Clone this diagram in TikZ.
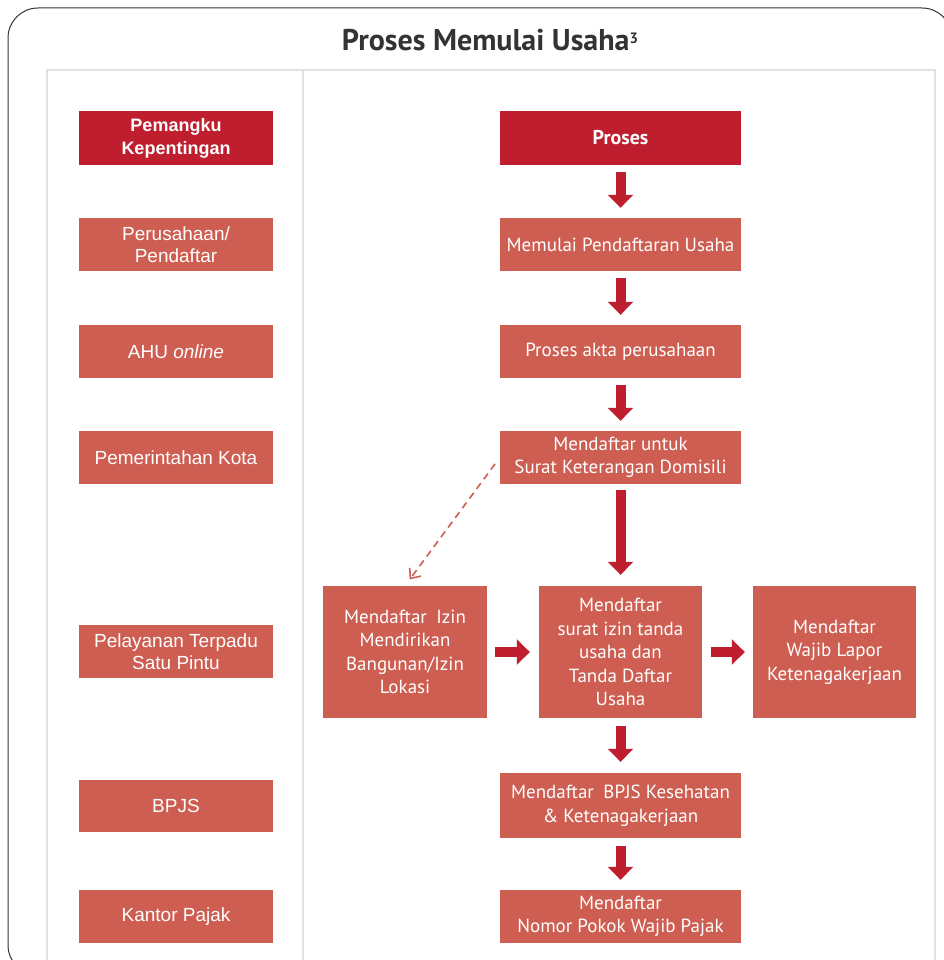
\documentclass[tikz,border=0pt]{standalone}
\usepackage{fontspec}
\setmainfont{Liberation Sans}
\newfontfamily\dinfont{PT Sans}
\usetikzlibrary{arrows.meta}

\definecolor{darkred}{HTML}{BE1E2D}
\definecolor{salmon}{HTML}{CD5E51}
\definecolor{panelgray}{HTML}{E2E2E2}
\definecolor{titlegray}{HTML}{333333}

\tikzset{
  boxhead/.style={fill=darkred, text=white, font=\bfseries\fontsize{18}{23}\selectfont, align=center, inner sep=0pt},
  boxrole/.style={fill=salmon, text=white, font=\fontsize{19}{22}\selectfont, align=center, inner sep=0pt,
    minimum width=194pt},
  boxstep/.style={fill=salmon, text=white, font=\dinfont\fontsize{19}{23.5}\selectfont, align=center, inner sep=0pt},
  bigarrow/.style={draw=darkred, line width=10pt, -{Triangle[length=13pt, width=25pt]}},
  dasharrow/.style={draw=salmon, line width=1.6pt, dash pattern=on 7pt off 5pt, -{Straight Barb[length=8pt, width=14pt]}}
}

\begin{document}
\begin{tikzpicture}[x=1pt, y=-1pt]
  \useasboundingbox (0,0) rectangle (943,960);
  \fill[white] (0,0) rectangle (943,960);

  % frame and panel
  \draw[black!80, line width=1pt, rounded corners=30pt] (8,8) rectangle (952,975);
  \draw[panelgray, line width=1.2pt] (47,990) -- (47,70) -- (935,70) -- (935,990);
  \draw[panelgray, line width=1.2pt] (303,70) -- (303,990);

  \node[text=titlegray, font=\dinfont\bfseries\fontsize{30}{34}\selectfont] (title) at (490,40)
    {Proses Memulai Usaha\raisebox{7pt}{\fontsize{15}{15}\selectfont 3}};

  % stakeholders
  \node[boxhead, minimum width=194pt, minimum height=54pt] (pemangku) at (176,138) {Pemangku\\Kepentingan};
  \node[boxrole, minimum height=53pt] (perusahaan) at (176,244.5) {Perusahaan/\\Pendaftar};
  \node[boxrole, minimum height=53pt] (ahu) at (176,351.5) {AHU \textit{online}};
  \node[boxrole, minimum height=53pt] (pemkot) at (176,457.5) {Pemerintahan Kota};
  \node[boxrole, minimum height=53pt] (ptsp) at (176,651.5) {Pelayanan Terpadu\\Satu Pintu};
  \node[boxrole, minimum height=52pt] (bpjs) at (176,806) {BPJS};
  \node[boxrole, minimum height=53pt] (pajak) at (176,916.5) {Kantor Pajak};

  % process steps
  \node[boxhead, font=\dinfont\bfseries\fontsize{20}{23}\selectfont, minimum width=241pt, minimum height=54pt] (proses) at (620.5,138) {Proses};
  \node[boxstep, minimum width=241pt, minimum height=53pt] (memulai) at (620.5,244.5) {Memulai Pendaftaran Usaha};
  \node[boxstep, minimum width=241pt, minimum height=53pt] (akta) at (620.5,351.5) {Proses akta perusahaan};
  \node[boxstep, minimum width=241pt, minimum height=53pt] (domisili) at (620.5,457.5) {Mendaftar untuk\\Surat Keterangan Domisili};
  \node[boxstep, minimum width=164pt, minimum height=132pt] (imb) at (405,652) {Mendaftar\enspace Izin\\Mendirikan\\Bangunan/Izin\\Lokasi};
  \node[boxstep, minimum width=163pt, minimum height=132pt] (siup) at (620.5,652) {Mendaftar\\surat izin tanda\\usaha dan\\Tanda Daftar\\Usaha};
  \node[boxstep, minimum width=163pt, minimum height=132pt] (wlk) at (834.5,652) {Mendaftar\\Wajib Lapor\\Ketenagakerjaan};
  \node[boxstep, minimum width=241pt, minimum height=65pt] (bpjskes) at (620.5,805.5) {Mendaftar\enspace BPJS Kesehatan\\\& Ketenagakerjaan};
  \node[boxstep, minimum width=241pt, minimum height=53pt] (npwp) at (620.5,916.5) {Mendaftar\\Nomor Pokok Wajib Pajak};

  % arrows
  \draw[bigarrow, shorten <=7pt, shorten >=10pt] (proses) -- (memulai);
  \draw[bigarrow, shorten <=7pt, shorten >=10pt] (memulai) -- (akta);
  \draw[bigarrow, shorten <=7pt, shorten >=10pt] (akta) -- (domisili);
  \draw[bigarrow, shorten <=6pt, shorten >=11pt] (domisili) -- (siup);
  \draw[bigarrow, shorten <=8pt, shorten >=9pt] (imb) -- (siup);
  \draw[bigarrow, shorten <=9pt, shorten >=8pt] (siup) -- (wlk);
  \draw[bigarrow, shorten <=8pt, shorten >=11pt] (siup) -- (bpjskes);
  \draw[bigarrow, shorten <=8pt, shorten >=10pt] (bpjskes) -- (npwp);
  \draw[dasharrow, shorten <=8pt, shorten >=8pt] (domisili.west) -- (imb.north);
\end{tikzpicture}
\end{document}
